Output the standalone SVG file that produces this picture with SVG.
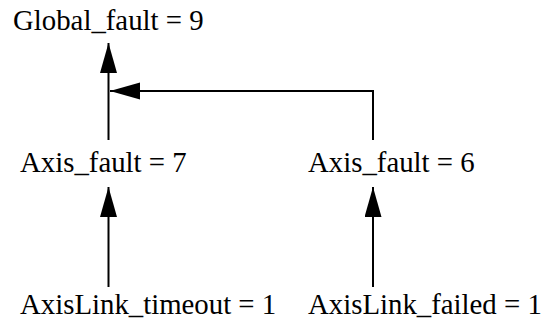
<svg xmlns="http://www.w3.org/2000/svg" width="543" height="325" viewBox="0 0 543 325">
<style>
.t{font-family:'Liberation Serif','DejaVu Serif',serif;font-size:28.8px;fill:#000}
.c{stroke:#000;stroke-width:2;fill:none}
</style>
<defs>
<marker id="ah" markerUnits="userSpaceOnUse" markerWidth="32" markerHeight="18" refX="30" refY="8.5" orient="auto" viewBox="0 0 32 18">
<path d="M0,0 L30,8.5 L0,17 Z" fill="#000"/>
</marker>
</defs>
<rect width="543" height="325" fill="#fff"/>
<g id="connectors">
<path class="c" d="M108.5,140 V43" marker-end="url(#ah)"/>
<path class="c" d="M373,140 V91 H110" marker-end="url(#ah)"/>
<path class="c" d="M108.5,287 V187" marker-end="url(#ah)"/>
<path class="c" d="M373,287 V187" marker-end="url(#ah)"/>
</g>
<g id="global"><text class="t" font-family="Liberation Serif, serif" x="13" y="30">Global_fault = 9</text></g>
<g id="axis7"><text class="t" font-family="Liberation Serif, serif" x="20" y="172">Axis_fault = 7</text></g>
<g id="axis6"><text class="t" font-family="Liberation Serif, serif" x="308" y="172">Axis_fault = 6</text></g>
<g id="timeout"><text class="t" font-family="Liberation Serif, serif" x="20" y="314">AxisLink_timeout = 1</text></g>
<g id="failed"><text class="t" font-family="Liberation Serif, serif" x="308" y="314">AxisLink_failed = 1</text></g>
</svg>
